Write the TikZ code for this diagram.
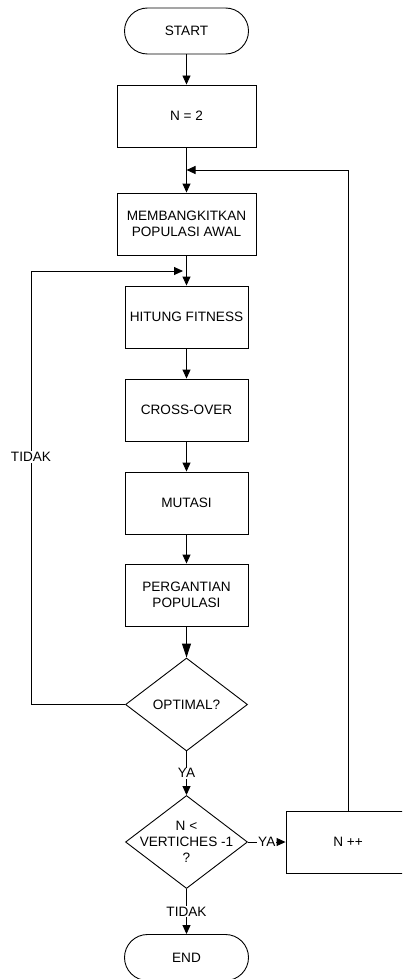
\documentclass[tikz,border=0pt]{standalone}
\usepackage{fontspec}
\setmainfont{Liberation Sans}
\usetikzlibrary{shapes.geometric,arrows.meta}

\begin{document}
\begin{tikzpicture}[x=1pt, y=-1pt, line width=0.9pt,
					font=\fontsize{13.6}{16.3}\selectfont,
					terminal/.style = {rectangle, draw, rounded corners=23pt,
					minimum width=124pt, minimum height=46pt},
					process/.style = {rectangle, draw, align=center,
					minimum width=123pt, minimum height=62pt},
					wide/.style = {process, minimum width=139pt},
					decision/.style = {diamond, draw, inner sep=0pt,
					minimum width=122pt, minimum height=93pt},
					flow/.style = {-{Triangle[length=9pt,width=8pt]}},
					bigflow/.style = {-{Triangle[length=14pt,width=9pt]}},
					answer/.style = {fill=white, inner sep=1pt}]

				\useasboundingbox (0,0) rectangle (402,979);
				\clip (0,0) rectangle (402,979);

				\node [terminal] (start) at (186.5,31) {START};
				\node [wide] (n2) at (186.5,116) {N = 2};
				\node [wide] (init) at (186.5,224) {MEMBANGKITKAN\\POPULASI AWAL};
				\node [process] (fit) at (186.5,317) {HITUNG FITNESS};
				\node [process] (cross) at (186.5,410) {CROSS-OVER};
				\node [process] (mut) at (186.5,503) {MUTASI};
				\node [process] (swap) at (186.5,595) {PERGANTIAN\\POPULASI};
				\node [decision] (opt) at (186.5,704.5) {OPTIMAL?};
				\node [decision, label = {[align=center]center:{N <\\VERTICHES -1\\?}}]
				(cek) at (186.5,842) {};
				\node [process, minimum width=124pt] (nplus) at (348,842) {N ++};
				\node [terminal] (stop) at (186.5,957.5) {END};

				\coordinate (back) at (186.5,170);
				\coordinate (loop) at (183,271);
				\coordinate (loopcorner) at (31,704.5);

				\draw [flow] (start) -- (n2);
				\draw [flow] (n2) -- (init);
				\draw [flow] (init) -- (fit);
				\draw [flow] (fit) -- (cross);
				\draw [flow] (cross) -- (mut);
				\draw [flow] (mut) -- (swap);
				\draw [bigflow] (swap) -- (opt);
				\draw [flow] (opt) -- node [answer] {YA} (cek);
				\draw [flow] (cek) -- node [answer] {YA} (nplus);
				\draw [flow] (cek) -- node [answer] {TIDAK} (stop);
				\draw [flow] (nplus.north) |- (back);
				\draw [flow] (opt.west) -- (loopcorner) |- (loop);
				\node [answer] (tidak) at (31,457) {TIDAK};
			\end{tikzpicture}
\end{document}
